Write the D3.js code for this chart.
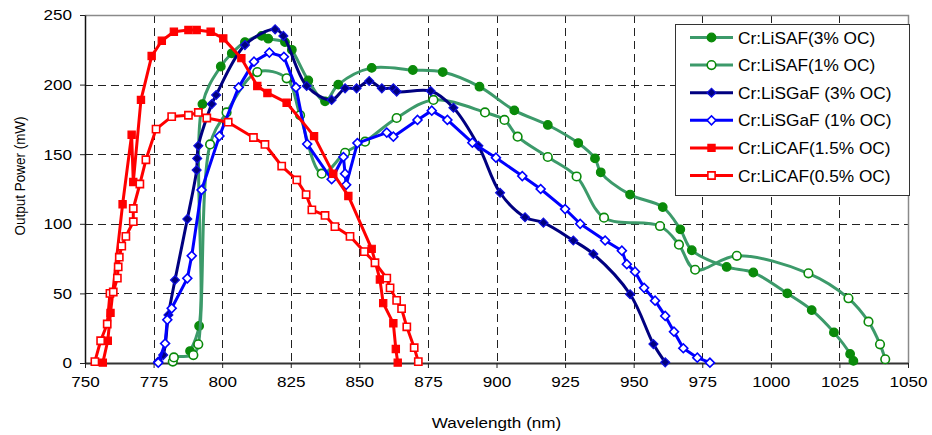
<!DOCTYPE html>
<html>
<head>
<meta charset="utf-8">
<script src="https://cdn.jsdelivr.net/npm/d3@7"></script>
<style>
  body { margin: 0; background: #fff; }
  svg { display: block; font-family: "Liberation Sans", Arial, sans-serif; }
</style>
</head>
<body>
<svg id="chart" width="932" height="435"></svg>
<script>
// Tuning curves: output power (mW) against wavelength (nm)
const wavelengthTicks = [750, 775, 800, 825, 850, 875, 900, 925, 950, 975, 1000, 1025, 1050];
const powerTicks = [0, 50, 100, 150, 200, 250];

const seriesNames = [
  "Cr:LiSAF(3% OC)",
  "Cr:LiSAF(1% OC)",
  "Cr:LiSGaF (3% OC)",
  "Cr:LiSGaF (1% OC)",
  "Cr:LiCAF(1.5% OC)",
  "Cr:LiCAF(0.5% OC)"
];

const lisaf3 = [
  [788.3, 8.6], [791.6, 26.6], [792.8, 186], [799.5, 213], [803.5, 222.5], [808.3, 230.5],
  [814.4, 235], [816.8, 233], [822.9, 230.5], [825.4, 225], [831.4, 203], [837.5, 188],
  [842.3, 200], [854.5, 212], [869.5, 210.5], [880.4, 209], [893.8, 198.5], [906.5, 181.5],
  [918.7, 171], [929.8, 158], [935.9, 147], [938, 137], [948.7, 121], [960.6, 112],
  [967, 96], [971.2, 81], [983.9, 69], [993.6, 65], [1006, 50], [1014.9, 38],
  [1023, 22], [1028.9, 6.5], [1030.1, 1.5]
];

const lisaf1 = [
  [782, 1], [782.4, 4], [789.5, 5.7], [791.3, 13.4], [795.6, 157], [801.6, 180],
  [812.8, 209], [823.5, 204.5], [828.4, 178], [836.3, 136], [844.8, 151], [852.1, 159],
  [863.6, 176], [877, 189], [895.8, 180], [902.9, 174.6], [907.7, 162.6], [918.7, 148],
  [929.2, 134], [939.2, 104.4], [959.6, 98.4], [966.5, 85], [972.4, 67], [987.6, 77],
  [1013.7, 64.4], [1028.3, 46.5], [1035.6, 29.7], [1039.8, 13.4], [1041.7, 2.7]
];

const lisgaf3 = [
  [776.7, 1], [778.5, 5.7], [780.4, 34.5], [782.8, 59.6], [787.3, 103.4], [790.7, 138.6],
  [790.9, 147], [791.3, 156], [796.2, 186], [797.8, 192.5], [808.3, 228.4], [819.3, 239.7],
  [822.3, 235], [830.8, 199], [839.9, 189], [844.8, 197.3], [849, 197.3], [853.6, 202.6],
  [858.2, 197.3], [862.4, 197.3], [863.6, 195], [876, 195.4], [884.3, 183.4], [893.4, 156],
  [901.3, 122.3], [910.4, 104.7], [917.1, 100.8], [928, 88], [935.3, 78.3], [948.7, 49.4],
  [957.2, 13.6], [961.5, 0.5]
];

const lisgaf1 = [
  [776.7, 0.2], [779.2, 14], [780, 31], [781.6, 39.3], [787.3, 60.8], [788.9, 77],
  [792.5, 124.3], [799, 163], [806, 198], [811.6, 216.5], [817.2, 223], [822.5, 220],
  [826.9, 198], [831, 157.3], [839.9, 132], [844.2, 148], [844.8, 136], [845.2, 128],
  [849.3, 158], [860, 165.5], [862.4, 162.6], [871.2, 174.6], [876.4, 181.3], [882.1, 174.6],
  [891.2, 158.3], [899.8, 147.5], [909.4, 134.3], [916.1, 125], [925, 110.6], [930.5, 100],
  [939.6, 88], [945.7, 80.7], [947.5, 71], [950.5, 65.6], [953.8, 54], [957.8, 44.8],
  [961.5, 33.8], [964.7, 22.5], [968.1, 10.6], [973.2, 3.8], [977.8, 0.2]
];

const licaf15 = [
  [756.5, 0.3], [758.3, 16], [759.3, 36], [763.7, 114], [767, 164], [767.6, 130],
  [770.4, 189], [774.3, 220.5], [778, 231.5], [782.4, 238], [787.7, 239.2], [790.7, 239.2],
  [795.8, 238], [800.4, 233.2], [807, 219], [812.8, 199], [816.5, 194], [823.5, 187],
  [833.5, 163], [840.5, 136], [846, 120], [854.5, 82], [857.5, 60], [858.7, 43],
  [862.4, 28.5], [863.3, 10], [864, 0.3]
];

const licaf05 = [
  [753.6, 1], [755.7, 16], [758.1, 28], [759.1, 50], [760.3, 51], [761.8, 61],
  [762.1, 69], [762.5, 76], [763.4, 84], [764.9, 91], [767.6, 101.5], [767.6, 111],
  [770, 128.6], [772.2, 146], [775.9, 168], [781.6, 177], [787.7, 178], [791.3, 180],
  [794.4, 176], [802.2, 173], [811.4, 162], [815.6, 157], [821.7, 141.5], [827.2, 131.5],
  [830.6, 121], [832.7, 110], [837.5, 106], [841.1, 98], [846.6, 91], [851.8, 80],
  [855.7, 72], [860, 61], [861.2, 54], [863.6, 45], [865.4, 39], [867.3, 26],
  [870, 11], [871.5, 1]
];

// Drawing styles for each series, in legend order
const styles = [
  { data: lisaf3,  line: "#3c9a6a", smooth: true,  shape: "circle",  fill: "#0a8a0a", stroke: "#0a8a0a" },
  { data: lisaf1,  line: "#3c9a6a", smooth: true,  shape: "circle",  fill: "#ffffff", stroke: "#0a8a0a" },
  { data: lisgaf3, line: "#000080", smooth: true,  shape: "diamond", fill: "#000080", stroke: "#1010e0" },
  { data: lisgaf1, line: "#0000ff", smooth: false, shape: "diamond", fill: "#ffffff", stroke: "#0000ff" },
  { data: licaf15, line: "#ff0000", smooth: false, shape: "square",  fill: "#ff0000", stroke: "#ff0000" },
  { data: licaf05, line: "#ff0000", smooth: false, shape: "square",  fill: "#ffffff", stroke: "#ff0000" }
];

const svg = d3.select("#chart");
const plotLeft = 85, plotRight = 908, plotTop = 15, plotBottom = 363;
const stretch = 1.14;

const x = d3.scaleLinear().domain([750, 1050]).range([plotLeft, plotRight]);
const y = d3.scaleLinear().domain([0, 250]).range([plotBottom, plotTop]);

// Dashed grid
const grid = svg.append("g").attr("stroke", "#222").attr("stroke-width", 1).attr("stroke-dasharray", "8,5");
grid.selectAll("line.v").data(wavelengthTicks.slice(1, -1)).join("line")
  .attr("class", "v")
  .attr("x1", d => Math.round(x(d)) + 0.5).attr("x2", d => Math.round(x(d)) + 0.5)
  .attr("y1", plotTop).attr("y2", plotBottom);
grid.selectAll("line.h").data(powerTicks.slice(1, -1)).join("line")
  .attr("class", "h")
  .attr("y1", d => Math.round(y(d)) + 0.5).attr("y2", d => Math.round(y(d)) + 0.5)
  .attr("x1", plotLeft).attr("x2", plotRight);

// Plot frame (top and right)
svg.append("path")
  .attr("d", `M${plotLeft},${plotTop + 0.5}H${plotRight + 0.5}V${plotBottom}`)
  .attr("fill", "none").attr("stroke", "#8a8a8a").attr("stroke-width", 1.5);

// Axes
const xAxis = svg.append("g").attr("transform", `translate(0,${plotBottom})`)
  .call(d3.axisBottom(x).tickValues(wavelengthTicks).tickSize(5).tickSizeOuter(0).tickFormat(d3.format("d")));
const yAxis = svg.append("g").attr("transform", `translate(${plotLeft},0)`)
  .call(d3.axisLeft(y).tickValues(powerTicks).tickSize(5).tickSizeOuter(0));

xAxis.select(".domain").attr("stroke", "#333").attr("stroke-width", 2.2);
yAxis.select(".domain").attr("stroke", "#111").attr("stroke-width", 1.5);
svg.selectAll(".tick line").attr("stroke", "#222");
xAxis.selectAll(".tick text")
  .attr("y", 13).attr("font-size", 15).attr("fill", "#000")
  .attr("transform", `scale(${stretch},1)`);
yAxis.selectAll(".tick text")
  .attr("x", -13 / stretch).attr("font-size", 15).attr("fill", "#000")
  .attr("transform", `scale(${stretch},1)`);
svg.selectAll(".tick text").attr("font-family", "'Liberation Sans', Arial, sans-serif");

// Axis titles
svg.append("text")
  .attr("transform", `translate(${(plotLeft + plotRight) / 2},428) scale(${stretch},1)`)
  .attr("text-anchor", "middle").attr("font-size", 15)
  .text("Wavelength (nm)");
svg.append("text")
  .attr("transform", `translate(25,176) rotate(-90) scale(1,${stretch})`)
  .attr("text-anchor", "middle").attr("font-size", 13.5)
  .text("Output Power (mW)");

// Marker generator
function marker(shape) {
  if (shape === "circle") return d3.symbol().type(d3.symbolCircle).size(58)();
  if (shape === "diamond") return d3.symbol().type(d3.symbolSquare).size(40)();
  return d3.symbol().type(d3.symbolSquare).size(52)();
}
function markerTransform(shape, px, py) {
  return shape === "diamond" ? `translate(${px},${py}) rotate(45)` : `translate(${px},${py})`;
}

// Series lines and markers
styles.forEach(s => {
  const line = d3.line()
    .x(d => x(d[0])).y(d => y(d[1]))
    .curve(s.smooth ? d3.curveCatmullRom.alpha(0.5) : d3.curveLinear);
  const g = svg.append("g");
  g.append("path").datum(s.data)
    .attr("d", line).attr("fill", "none")
    .attr("stroke", s.line).attr("stroke-width", 3).attr("stroke-linejoin", "round");
  g.selectAll("path.m").data(s.data).join("path")
    .attr("class", "m")
    .attr("d", marker(s.shape))
    .attr("transform", d => markerTransform(s.shape, x(d[0]), y(d[1])))
    .attr("fill", s.fill).attr("stroke", s.stroke)
    .attr("stroke-width", s.fill === "#ffffff" ? 1.6 : 1.2);
});

// Legend
const lg = svg.append("g");
lg.append("rect")
  .attr("x", 675.5).attr("y", 24.5).attr("width", 234).attr("height", 171)
  .attr("fill", "#fff").attr("stroke", "#333").attr("stroke-width", 1);
const rowY = d3.scaleLinear().domain([0, 5]).range([37.5, 175.5]);
styles.forEach((s, i) => {
  const ry = rowY(i);
  lg.append("line").attr("x1", 690).attr("x2", 733).attr("y1", ry).attr("y2", ry)
    .attr("stroke", s.line).attr("stroke-width", 3);
  lg.append("path").attr("d", marker(s.shape))
    .attr("transform", markerTransform(s.shape, 711.5, ry))
    .attr("fill", s.fill).attr("stroke", s.stroke)
    .attr("stroke-width", s.fill === "#ffffff" ? 1.6 : 1.2);
  lg.append("text")
    .attr("transform", `translate(738,${ry + 6}) scale(1.08,1)`)
    .attr("font-size", 16)
    .text(seriesNames[i]);
});
</script>
</body>
</html>
